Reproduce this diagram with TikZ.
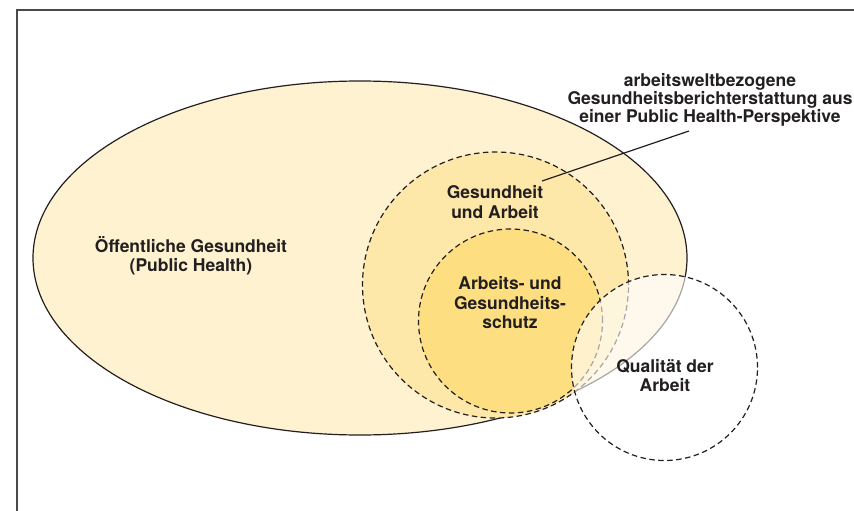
\documentclass[tikz,border=0pt]{standalone}
\usepackage{fontspec}
\setmainfont{TeX Gyre Heros}
\usetikzlibrary{shapes.geometric}
\definecolor{txt}{HTML}{231F20}
\definecolor{ellfill}{HTML}{FEF2D0}
\definecolor{midfill}{HTML}{FDE8AA}
\definecolor{innfill}{HTML}{FDDE80}
\definecolor{framecol}{HTML}{4A4A4A}
\begin{document}
\begin{tikzpicture}[x=1pt,y=-1pt,
  lbl/.style={font=\fontsize{17.5}{19.5}\selectfont\bfseries, text=txt, align=center, inner sep=0pt},
  toplbl/.style={font=\fontsize{17.5}{18}\selectfont\bfseries, text=txt, align=center, inner sep=0pt},
  dashline/.style={draw=txt, line width=1.2pt, dash pattern=on 5.5pt off 3.5pt},
  area/.style={inner sep=0pt, outer sep=0pt},
  leader/.style={draw=txt, line width=1.2pt}]
\useasboundingbox (0,0) rectangle (854,511);
% frame
\coordinate (fTR) at (854,10);
\coordinate (fTL) at (17,10);
\coordinate (fBL) at (17,511);
\draw[framecol, line width=1.3pt] (fTR) -- (fTL) -- (fBL);
% areas
\node[area, ellipse, minimum width=654pt, minimum height=354pt, fill=ellfill, draw=txt, line width=1.2pt] (oeg) at (360,258) {};
\node[area, circle, minimum size=266pt, fill=midfill, dashline] (ga) at (495.5,285) {};
\node[area, circle, minimum size=184pt, fill=innfill, dashline] (ags) at (510.5,321) {};
\node[area, circle, minimum size=186pt, fill=white, fill opacity=0.6, dashline] (qa) at (664.5,367.5) {};
% labels
\node[lbl] (toeg) at (191,256) {Öffentliche Gesundheit\\(Public Health)};
\node[lbl] (tga) at (495,202) {Gesundheit\\und Arbeit};
\node[lbl] (tags) at (510,303) {Arbeits- und\\Gesundheits-\\schutz};
\node[lbl] (tqa) at (665,375.5) {Qualität der\\Arbeit};
\node[toplbl] (ttop) at (710,100) {arbeitsweltbezogene\\Gesundheitsberichterstattung aus\\einer Public Health-Perspektive};
% leader
\coordinate (lstart) at (689,131);
\coordinate (lend) at (542,181);
\draw[leader] (lstart) -- (lend);
\end{tikzpicture}
\end{document}
